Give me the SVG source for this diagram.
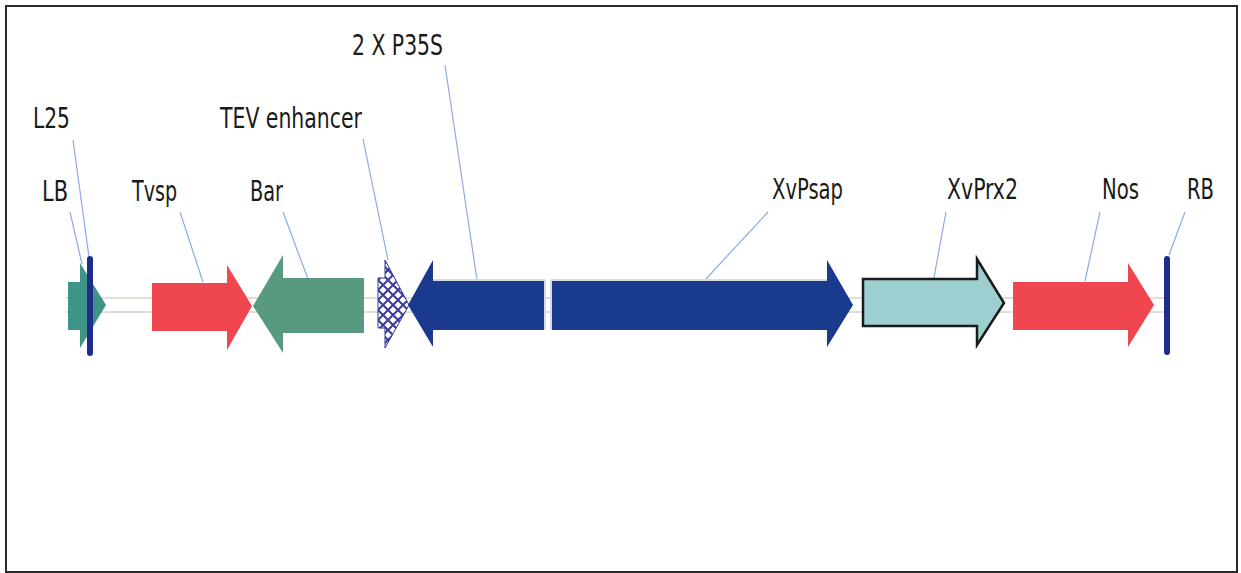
<svg xmlns="http://www.w3.org/2000/svg" width="1241" height="573" viewBox="0 0 1241 573">
<style>
.lbl{font-family:"DejaVu Sans Condensed","DejaVu Sans",sans-serif;font-stretch:condensed;font-size:29px;fill:#1a1a1a}
.lead{stroke:#8eaae6;stroke-width:1.2;fill:none}
.bb{stroke:#d4d4c4;stroke-width:1.6}
.bar{stroke:#1e2d8c;stroke-width:6;stroke-linecap:round}
.red{fill:#f0464f}
.navy{fill:#1a3a8e}
.hl{stroke:#d6dbe4;stroke-width:2}
</style>
<defs>
<pattern id="hatch" patternUnits="userSpaceOnUse" width="10" height="10" x="378" y="260">
<rect width="10" height="10" fill="#ffffff"/>
<path d="M0,0 L10,10 M0,10 L10,0" stroke="#3a3aa0" stroke-width="2"/>
</pattern>
</defs>
<rect x="0" y="0" width="1241" height="573" fill="#ffffff"/>
<rect x="6" y="6" width="1231" height="566" fill="none" stroke="#2a2a2a" stroke-width="2"/>
<g id="backbone">
<line class="bb" x1="66" y1="298" x2="1165" y2="298"/>
<line class="bb" x1="66" y1="312" x2="1165" y2="312"/>
</g>
<g id="connectors">
<line class="lead" x1="73" y1="140" x2="89" y2="257"/>
<line class="lead" x1="70" y1="212" x2="82" y2="264"/>
<line class="lead" x1="180" y1="212" x2="203" y2="282"/>
<line class="lead" x1="283" y1="212" x2="308" y2="279"/>
<line class="lead" x1="363" y1="139" x2="388" y2="260"/>
<line class="lead" x1="445" y1="65" x2="477" y2="280"/>
<line class="lead" x1="768" y1="212" x2="705" y2="280"/>
<line class="lead" x1="946" y1="212" x2="933" y2="283"/>
<line class="lead" x1="1100" y1="212" x2="1085" y2="281"/>
<line class="lead" x1="1185" y1="212" x2="1169" y2="255"/>
</g>
<g id="LB">
<polygon points="68,282 80,282 80,263 106,305 80,348 80,330 68,330" fill="#3f9488"/>
<text class="lbl" x="42" y="201" textLength="26" lengthAdjust="spacingAndGlyphs">LB</text>
</g>
<g id="L25">
<line class="bar" x1="90" y1="259" x2="90" y2="353"/>
<text class="lbl" x="33" y="128" textLength="37" lengthAdjust="spacingAndGlyphs">L25</text>
</g>
<g id="Tvsp">
<polygon class="red" points="152,283 227,283 227,265 252,306 227,350 227,331 152,331"/>
<text class="lbl" x="132" y="201" textLength="45" lengthAdjust="spacingAndGlyphs">Tvsp</text>
</g>
<g id="Bar">
<polygon points="364,278 283,278 283,255 253,306 283,353 283,333 364,333" fill="#579a80"/>
<text class="lbl" x="250" y="201" textLength="33" lengthAdjust="spacingAndGlyphs">Bar</text>
</g>
<g id="TEV">
<polygon points="378,278 385,278 385,260 409,305 385,348 385,328 378,328" fill="url(#hatch)" stroke="#2a3a9a" stroke-width="1"/>
<text class="lbl" x="220" y="128" textLength="142" lengthAdjust="spacingAndGlyphs">TEV enhancer</text>
</g>
<g id="P35S">
<polygon class="navy" points="544,280 433,280 433,260 408,305 433,347 433,330 544,330"/>
<line class="hl" x1="433" y1="280" x2="545" y2="280"/>
<line class="hl" x1="545" y1="280" x2="545" y2="330"/>
<text class="lbl" x="352" y="55" textLength="91" lengthAdjust="spacingAndGlyphs">2 X P35S</text>
</g>
<g id="XvPsap">
<polygon class="navy" points="552,280 827,280 827,260 853,305 827,347 827,330 552,330"/>
<line class="hl" x1="551" y1="280" x2="827" y2="280"/>
<line class="hl" x1="551" y1="280" x2="551" y2="330"/>
<text class="lbl" x="772" y="199" textLength="71" lengthAdjust="spacingAndGlyphs">XvPsap</text>
</g>
<g id="XvPrx2">
<polygon points="863,279 977,279 977,259 1004,303 977,345 977,326 863,326" fill="#9ecfd0" stroke="#1a1a1a" stroke-width="2.5" stroke-linejoin="miter"/>
<text class="lbl" x="947" y="199" textLength="71" lengthAdjust="spacingAndGlyphs">XvPrx2</text>
</g>
<g id="Nos">
<polygon class="red" points="1013,282 1128,282 1128,263 1154,305 1128,347 1128,330 1013,330"/>
<text class="lbl" x="1102" y="199" textLength="37" lengthAdjust="spacingAndGlyphs">Nos</text>
</g>
<g id="RB">
<line class="bar" x1="1167" y1="259" x2="1167" y2="352"/>
<text class="lbl" x="1187" y="199" textLength="27" lengthAdjust="spacingAndGlyphs">RB</text>
</g>
</svg>
